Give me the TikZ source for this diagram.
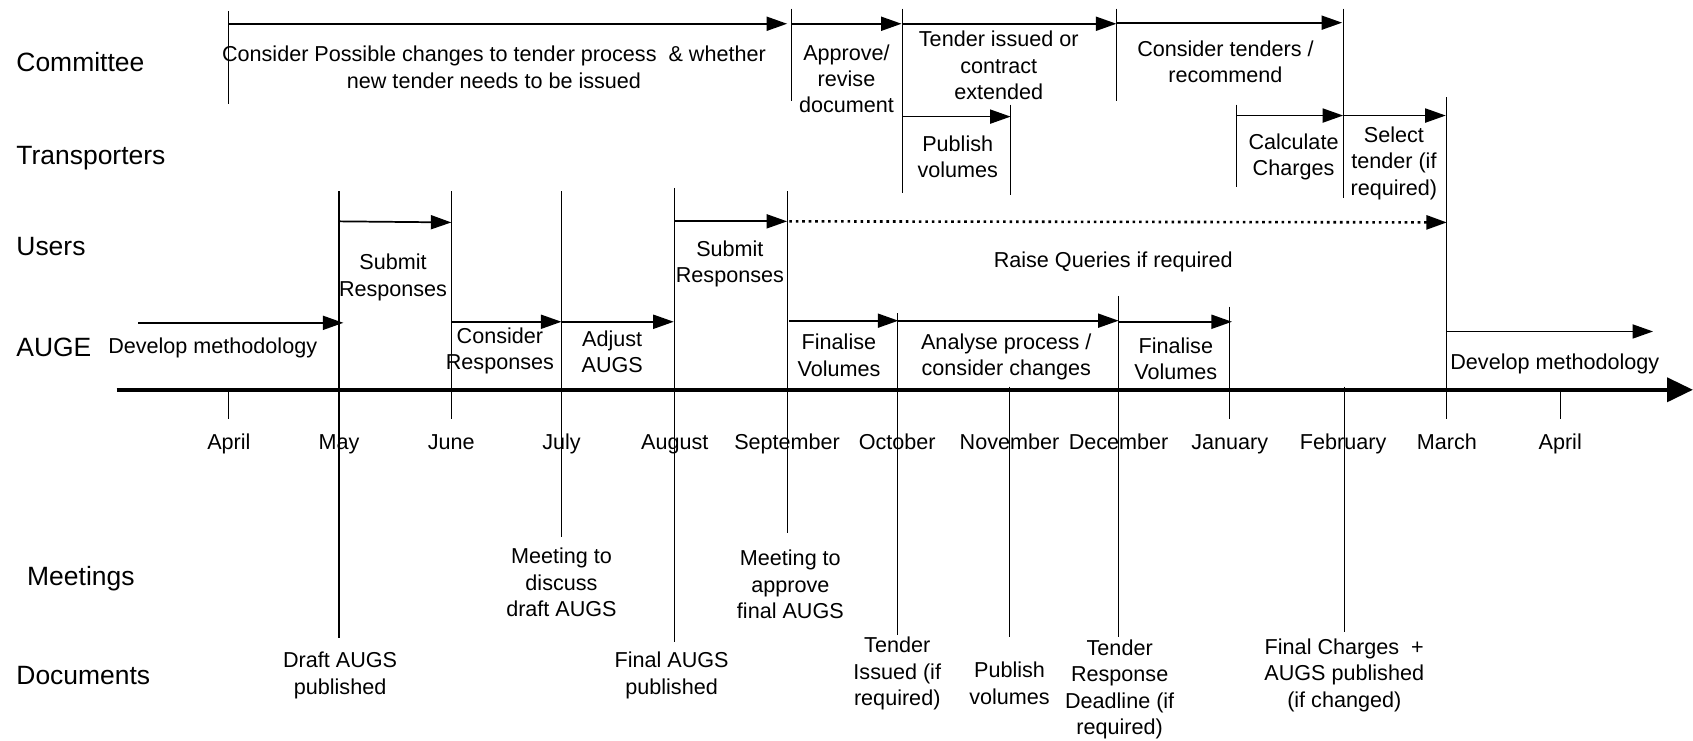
\documentclass[tikz,border=0pt]{standalone}
\usepackage{fontspec}
\setmainfont{Liberation Sans}
\usetikzlibrary{arrows.meta}
\begin{document}
\begin{tikzpicture}[x=1pt,y=-1pt,
  vl/.style={line width=1pt},
  ar/.style={line width=1.6pt,-{Triangle[length=19pt,width=13pt]}},
  dotar/.style={line width=2.4pt,dash pattern=on 2.4pt off 3.6pt,-{Triangle[length=19pt,width=13pt]}},
  axis/.style={line width=4pt,-{Triangle[length=24pt,width=22pt]}},
  tx/.style={align=center,font=\fontsize{20}{24.5}\selectfont,inner sep=0pt},
  bt/.style={anchor=base,font=\fontsize{20}{24.5}\selectfont,inner sep=0pt},
  rl/.style={anchor=base west,font=\fontsize{24.5}{29}\selectfont,inner sep=0pt},
]
\useasboundingbox (0,0) rectangle (1568,686);

% row labels
\node[rl] (lc) at (15,66) {Committee};
\node[rl] (lt) at (15,152.4) {Transporters};
\node[rl] (lu) at (15,237) {Users};
\node[rl] (la) at (15,330) {AUGE};
\node[rl] (lm) at (25,542.4) {Meetings};
\node[rl] (ld) at (15,634) {Documents};

% axis
\draw[axis] (108,361) -- (1568,361);

% vertical lines
\draw[vl] (212,10) -- (212,96);
\draw[vl] (733,8) -- (733,94);
\draw[vl] (836,8) -- (836,179);
\draw[vl] (1034,8) -- (1034,94);
\draw[vl] (1244,8) -- (1244,183);
\draw[vl] (936,97) -- (936,181);
\draw[vl] (1145,97) -- (1145,173);
\draw[vl] (1340,90) -- (1340,388);
\draw[vl] (314,177) -- (314,591);
\draw[vl] (418,177) -- (418,388);
\draw[vl] (520,177) -- (520,497);
\draw[vl] (625,174) -- (625,595);
\draw[vl] (729,177) -- (729,494);
\draw[vl] (831,290) -- (831,588);
\draw[vl] (935,358) -- (935,590);
\draw[vl] (1036,274) -- (1036,590);
\draw[vl] (1139,284) -- (1139,388);
\draw[vl] (1245,358) -- (1245,585);
\draw[vl] (212,361) -- (212,388);
\draw[vl] (1445,361) -- (1445,388);

% arrows
\draw[ar] (212,22) -- (729,22);
\draw[ar] (733,22) -- (835,22);
\draw[ar] (836,22) -- (1034,22);
\draw[ar] (1034,21) -- (1243,21);
\draw[ar] (836,108) -- (936,108);
\draw[ar] (1145,107) -- (1244,107);
\draw[ar] (1244,107) -- (1339,107);
\draw[ar] (314,205) -- (418,206);
\draw[ar] (625,205) -- (729,205);
\draw[dotar] (731,205) -- (1340,206);
\draw[ar] (128,299) -- (318,299);
\draw[ar] (418,298) -- (520,298);
\draw[ar] (520,298) -- (624,298);
\draw[ar] (731,297) -- (832,297);
\draw[ar] (832,297) -- (1036,297);
\draw[ar] (1036,298) -- (1141,298);
\draw[ar] (1340,307) -- (1531,307);

% committee texts
\node[tx] (c1) at (457.5,62.5) {Consider Possible changes to tender process \ \& whether\\new tender needs to be issued};
\node[tx] (c2) at (784,73) {Approve/\\revise\\document};
\node[tx] (c3) at (925,60.5) {Tender issued or\\contract\\extended};
\node[tx] (c4) at (1135,57) {Consider tenders /\\recommend};
% transporters
\node[tx] (t1) at (887,145) {Publish\\volumes};
\node[tx] (t2) at (1198,145.5) {Calculate\\Charges};
\node[tx] (t3) at (1291,151) {Select\\tender (if\\required)};
% users
\node[tx] (u1) at (364,257) {Submit\\Responses};
\node[tx] (u2) at (676,244.5) {Submit\\Responses};
\node[bt] (u3) at (1031,248.2) {Raise Queries if required};
% AUGE
\node[bt] (a1) at (197,327.3) {Develop methodology};
\node[tx] (a2) at (463,325) {Consider\\Responses};
\node[tx] (a3) at (567,326) {Adjust\\AUGS};
\node[tx] (a4) at (777,329) {Finalise\\Volumes};
\node[tx] (a5) at (932,330.5) {Analyse process /\\consider changes};
\node[tx] (a6) at (1089,332.5) {Finalise\\Volumes};
\node[bt] (a7) at (1440,342.3) {Develop methodology};
% months
\node[bt] (mo1) at (212,416.3) {April};
\node[bt] (mo2) at (314,416.3) {May};
\node[bt] (mo3) at (418,416.3) {June};
\node[bt] (mo4) at (520,416.3) {July};
\node[bt] (mo5) at (625,416.3) {August};
\node[bt] (mo6) at (729,416.3) {September};
\node[bt] (mo7) at (831,416.3) {October};
\node[bt] (mo8) at (935,416.3) {November};
\node[bt] (mo9) at (1036,416.3) {December};
\node[bt] (mo10) at (1139,416.3) {January};
\node[bt] (mo11) at (1244,416.3) {February};
\node[bt] (mo12) at (1340,416.3) {March};
\node[bt] (mo13) at (1445,416.3) {April};
% meetings
\node[tx] (m1) at (520,539.5) {Meeting to\\discuss\\draft AUGS};
\node[tx] (m2) at (732,541.5) {Meeting to\\approve\\final AUGS};
% documents
\node[tx] (d1) at (315,625.5) {Draft AUGS\\published};
\node[tx] (d2) at (622,625.5) {Final AUGS\\published};
\node[tx] (d3) at (831,624) {Tender\\Issued (if\\required)};
\node[tx] (d4) at (935,633) {Publish\\volumes};
\node[tx] (d5) at (1037,638.5) {Tender\\Response\\Deadline (if\\required)};
\node[tx] (d6) at (1245,625.5) {Final Charges \ +\\AUGS published\\(if changed)};
\end{tikzpicture}
\end{document}
